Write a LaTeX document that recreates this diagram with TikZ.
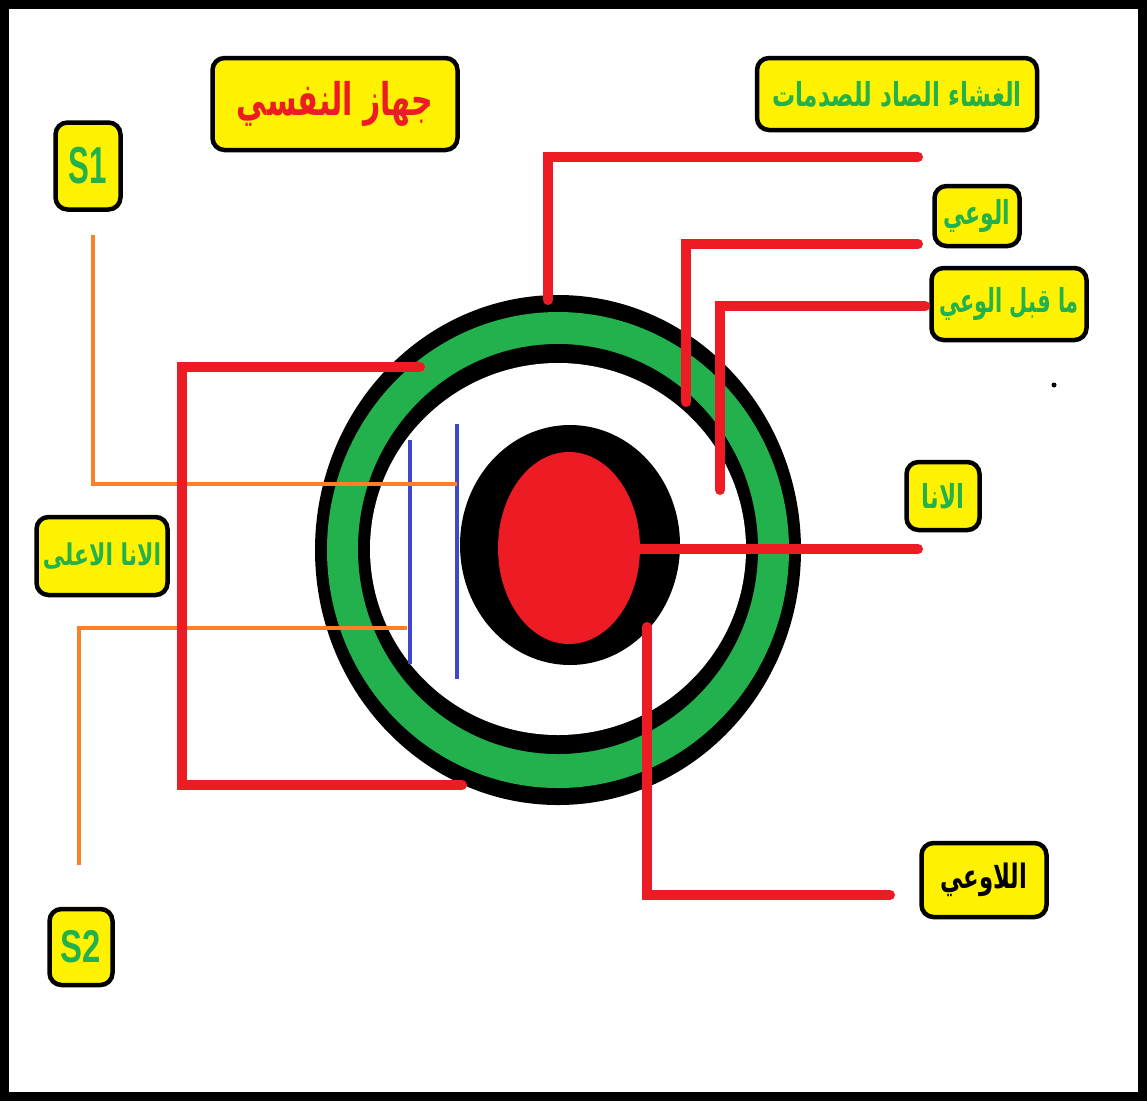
\documentclass[tikz,border=0pt]{standalone}
\usepackage{fontspec}
\usepackage{graphicx}
\setmainfont{DejaVu Sans}
\newfontfamily\arabicfont[Script=Arabic]{DejaVu Sans}
\newfontfamily\latinfont{Liberation Sans}
\TeXXeTstate=1
\definecolor{pyellow}{HTML}{FFF200}
\definecolor{pred}{HTML}{ED1C24}
\definecolor{pgreen}{HTML}{22B14C}
\definecolor{porange}{HTML}{FF7F27}
\definecolor{pblue}{HTML}{3F48CC}
\tikzset{
  labelbox/.style={draw=black, line width=4.5pt, fill=pyellow, rounded corners=12pt, inner sep=0pt, align=center},
  redline/.style={draw=pred, line width=10pt, line cap=round},
  orangeline/.style={draw=porange, line width=3.5pt},
  blueline/.style={draw=pblue, line width=3.5pt},
}
\begin{document}
\begin{tikzpicture}[x=1pt,y=-1pt]
\path[fill=white] (0,0) rectangle (1147,1101);
\useasboundingbox (0,0) rectangle (1147,1101);
\draw[line width=9pt] (4.5,4.5) rectangle (1142.5,1096.5);

% rings
\fill[black] (558,550) ellipse [x radius=243, y radius=255];
\fill[pgreen] (558,550) ellipse [x radius=231, y radius=238];
\fill[black] (558,549) ellipse [x radius=200, y radius=205];
\fill[white] (558,549) ellipse [x radius=188, y radius=186];
\fill[black] (570,545) ellipse [x radius=110, y radius=120];
\fill[pred] (569,548) ellipse [x radius=71, y radius=96];

% labels
\node[labelbox, minimum width=245, minimum height=92] (title) at (335,104)
  {\color{pred}\scalebox{1}[1.5]{\fontsize{30}{34}\selectfont\arabicfont\bfseries\beginR جهاز النفسي\endR}};
\node[labelbox, minimum width=280, minimum height=72] (membrane) at (897,94)
  {\color{pgreen}\scalebox{1.05}[1.5]{\fontsize{22}{26}\selectfont\arabicfont\bfseries\beginR الغشاء الصاد للصدمات\endR}};
\node[labelbox, minimum width=85, minimum height=60] (conscious) at (977,216)
  {\color{pgreen}\scalebox{1}[1.5]{\fontsize{22}{26}\selectfont\arabicfont\bfseries\beginR الوعي\endR}};
\node[labelbox, minimum width=155, minimum height=72] (precon) at (1009,304)
  {\color{pgreen}\scalebox{0.95}[1.5]{\fontsize{22}{26}\selectfont\arabicfont\bfseries\beginR ما قبل الوعي\endR}};
\node[labelbox, minimum width=131, minimum height=78] (superego) at (102,556)
  {\color{pgreen}\scalebox{1.1}[1.5]{\fontsize{20}{24}\selectfont\arabicfont\bfseries\beginR الانا الاعلى\endR}};
\node[labelbox, minimum width=73, minimum height=68] (ego) at (943,496)
  {\color{pgreen}\scalebox{1.05}[1.5]{\fontsize{22}{26}\selectfont\arabicfont\bfseries\beginR الانا\endR}};
\node[labelbox, minimum width=125, minimum height=74] (uncon) at (984,880)
  {\color{black}\scalebox{0.95}[1.4]{\fontsize{24}{28}\selectfont\arabicfont\bfseries\beginR اللاوعي\endR}};
\node[labelbox, minimum width=65, minimum height=87] (s1) at (88,166)
  {\color{pgreen}\scalebox{0.78}[1.3]{\fontsize{40}{42}\selectfont\latinfont\bfseries S1}};
\node[labelbox, minimum width=63, minimum height=76] (s2) at (81,947)
  {\color{pgreen}\scalebox{0.82}[1.15]{\fontsize{40}{42}\selectfont\latinfont\bfseries S2}};

% connector end points
\coordinate (m1) at (548,300);  \coordinate (m1e) at (918,157);
\coordinate (c1) at (686,402);  \coordinate (c1e) at (918,244);
\coordinate (p1) at (720,490);  \coordinate (p1e) at (925,306);
\coordinate (e1) at (640,549);  \coordinate (e1e) at (918,549);
\coordinate (u1) at (647,627);  \coordinate (u1e) at (890,895);
\coordinate (se1) at (420,367); \coordinate (sex) at (182,576); \coordinate (se2) at (462,785);
\coordinate (o1a) at (93,235);  \coordinate (o1b) at (457,484);
\coordinate (o2a) at (79,865);  \coordinate (o2b) at (407,628);
\coordinate (b1a) at (410,440); \coordinate (b1b) at (410,664);
\coordinate (b2a) at (457,424); \coordinate (b2b) at (457,679);

% blue
\draw[blueline] (b1a) -- (b1b);
\draw[blueline] (b2a) -- (b2b);
% orange
\draw[orangeline] (o1a) |- (o1b);
\draw[orangeline] (o2a) |- (o2b);
% red
\draw[redline] (m1) |- (m1e);
\draw[redline] (c1) |- (c1e);
\draw[redline] (p1) |- (p1e);
\draw[redline] (e1) -- (e1e);
\draw[redline] (u1) |- (u1e);
\draw[redline] (se1) -| (sex) |- (se2);

\fill[black] (1054,385) circle (2.5);
\end{tikzpicture}
\end{document}
